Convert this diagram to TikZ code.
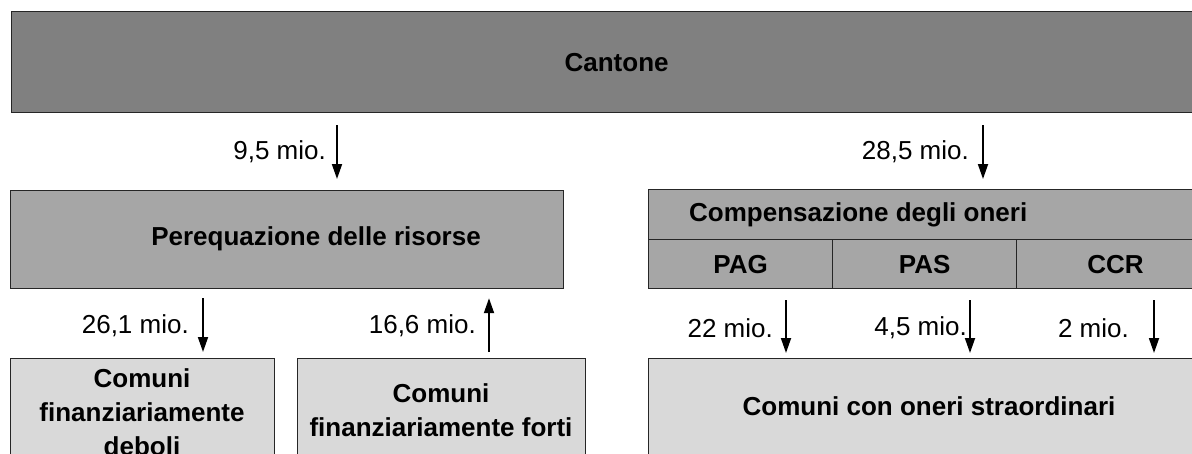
\documentclass[tikz,border=0pt]{standalone}
\usepackage{fontspec}
\setmainfont{Liberation Sans}
\usetikzlibrary{arrows.meta}

\begin{document}
\begin{tikzpicture}[x=1pt,y=-1pt,>={Triangle[length=15pt,width=10pt]},
    font=\fontsize{26}{30}\selectfont, line join=miter]
  \tikzset{
    box/.style={draw=black!85, line width=1.2pt, inner sep=0pt, anchor=north west},
    dark/.style={box, fill=black!50},
    mid/.style={box, fill=black!35},
    light/.style={box, fill=black!15},
    title/.style={font=\fontsize{26}{34}\selectfont\bfseries, inner sep=0pt, align=center},
    flow/.style={->, line width=1.8pt},
    amount/.style={anchor=east, inner sep=0pt},
  }
  \clip (0,0) rectangle (1192,453);
  % boxes
  \node[dark, minimum width=1210pt, minimum height=101pt] (cant) at (11,11) {};
  \node[title] (canttxt) at (cant.center) {Cantone};
  \node[mid, minimum width=553pt, minimum height=98pt] (pere) at (10,190) {};
  \node[title] (peretxt) at (316,239) {Perequazione delle risorse};
  \node[mid, minimum width=566pt, minimum height=50pt] (comp) at (648,189) {};
  \node[title, anchor=west] (comptxt) at (689,215) {Compensazione degli oneri};
  \node[mid, minimum width=184pt, minimum height=49pt] (pag) at (648,239) {};
  \node[mid, minimum width=184pt, minimum height=49pt] (pas) at (832,239) {};
  \node[mid, minimum width=198pt, minimum height=49pt] (ccr) at (1016,239) {};
  \node[title] at (pag.center) {PAG};
  \node[title] at (pas.center) {PAS};
  \node[title] at (ccr.center) {CCR};
  \node[light, minimum width=264pt, minimum height=120pt] (deboli) at (10,358) {};
  \node[title, anchor=north] (debtxt) at (142,368) {Comuni\\finanziariamente\\deboli};
  \node[light, minimum width=288pt, minimum height=120pt] (forti) at (297,358) {};
  \node[title] (fortxt) at (441,410) {Comuni\\finanziariamente forti};
  \node[light, minimum width=562pt, minimum height=120pt] (straord) at (648,358) {};
  \node[title] (strtxt) at (929,406) {Comuni con oneri straordinari};
  % flows
  \coordinate (x1) at (337,0); \coordinate (x2) at (983,0);
  \coordinate (x3) at (203,0); \coordinate (x4) at (489,0);
  \coordinate (x5) at (786,0); \coordinate (x6) at (970,0); \coordinate (x7) at (1154,0);
  \draw[flow, shorten <=12pt, shorten >=11pt] (cant.south -| x1) -- (pere.north -| x1);
  \draw[flow, shorten <=12pt, shorten >=10pt] (cant.south -| x2) -- (comp.north -| x2);
  \draw[flow, shorten <=9pt, shorten >=6pt] (pere.south -| x3) -- (deboli.north -| x3);
  \draw[flow, shorten <=6pt, shorten >=9pt] (forti.north -| x4) -- (pere.south -| x4);
  \draw[flow, shorten <=11pt, shorten >=5pt] (pag.south -| x5) -- (straord.north -| x5);
  \draw[flow, shorten <=11pt, shorten >=5pt] (pas.south -| x6) -- (straord.north -| x6);
  \draw[flow, shorten <=11pt, shorten >=5pt] (ccr.south -| x7) -- (straord.north -| x7);
  % amounts
  \node[amount] (a1) at (326,152) {9,5 mio.};
  \node[amount] (a2) at (969,152) {28,5 mio.};
  \node[amount] (a3) at (189,326) {26,1 mio.};
  \node[amount] (a4) at (476,326) {16,6 mio.};
  \node[amount] (a5) at (773,328) {22 mio.};
  \node[amount] (a6) at (967,328) {4,5 mio.};
  \node[amount] (a7) at (1129,328) {2 mio.};
\end{tikzpicture}
\end{document}
